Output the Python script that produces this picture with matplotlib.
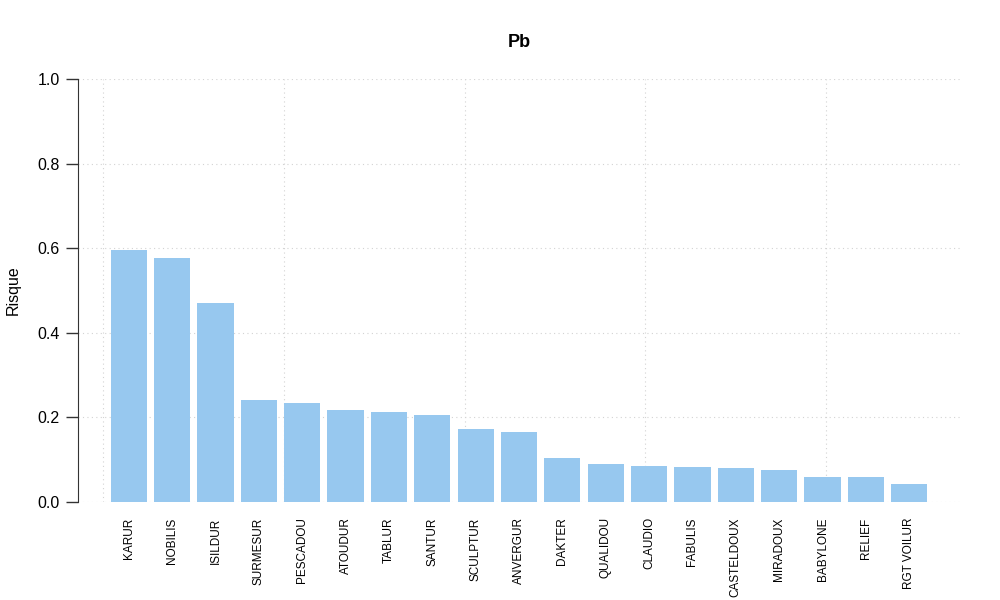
import numpy as np
import matplotlib
matplotlib.use('Agg')
import matplotlib.pyplot as plt

plt.rcParams['font.family'] = ['Liberation Sans', 'DejaVu Sans']

# donnees
noms = ['KARUR', 'NOBILIS', 'ISILDUR', 'SURMESUR', 'PESCADOU', 'ATOUDUR',
        'TABLUR', 'SANTUR', 'SCULPTUR', 'ANVERGUR', 'DAKTER', 'QUALIDOU',
        'CLAUDIO', 'FABULIS', 'CASTELDOUX', 'MIRADOUX', 'BABYLONE', 'RELIEF',
        'RGT VOILUR']
risque = [0.596, 0.577, 0.470, 0.241, 0.234, 0.217, 0.213, 0.206, 0.172,
          0.165, 0.104, 0.090, 0.085, 0.083, 0.080, 0.076, 0.059, 0.059,
          0.043]
titre = 'Pb'

# positions facon barplot R (largeur 1, espace 0.2)
x = 0.7 + 1.2 * np.arange(len(noms))

fig = plt.figure(figsize=(10, 6), dpi=100)
ax = fig.add_axes([0.078, (600 - 502) / 600, 0.882, 423 / 600])

ax.bar(x, risque, width=1.0, color='#97C8EF', zorder=2)

ax.set_xlim(-0.704, 23.704)
ax.set_ylim(0, 1)

# grille pointillee
for gx in [0, 5, 10, 15, 20]:
    ax.axvline(gx, color='#d3d3d3', lw=0.8, ls=(0, (1, 3)), zorder=1)
for gy in np.arange(0, 1.01, 0.2):
    ax.axhline(gy, color='#d3d3d3', lw=0.8, ls=(0, (1, 3)), zorder=1)

for s in ['top', 'right', 'bottom']:
    ax.spines[s].set_visible(False)
ax.spines['left'].set_color('#333333')

ax.set_yticks(np.arange(0, 1.01, 0.2))
ax.set_yticklabels(['%.1f' % v for v in np.arange(0, 1.01, 0.2)], fontsize=11.5)
ax.tick_params(axis='y', length=9, width=1, color='#333333', pad=4)

ax.set_xticks(x)
ax.set_xticklabels(noms, rotation=90, fontsize=8.5, va='top', ha='center')
ax.tick_params(axis='x', length=0, pad=11)

ax.set_ylabel('Risque', fontsize=11.5, labelpad=12)
ax.set_title(titre, fontsize=13, fontweight='bold', pad=23)

fig.savefig('out.png', dpi=100)
